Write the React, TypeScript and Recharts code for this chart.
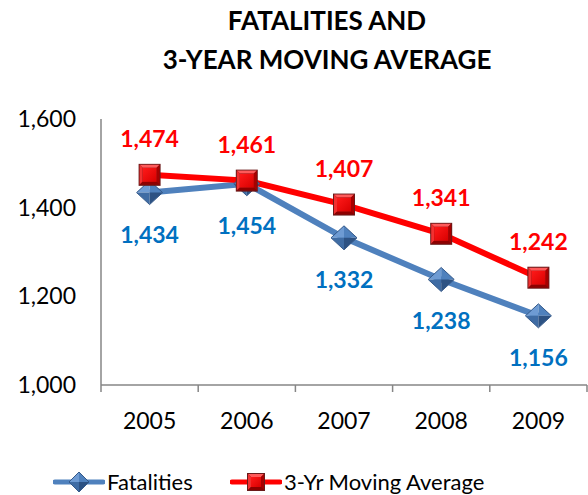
import { LineChart, Line, XAxis, YAxis, LabelList } from 'recharts'

const years = ['2005', '2006', '2007', '2008', '2009']
const fatalities = [1434, 1454, 1332, 1238, 1156]
const movingAverage = [1474, 1461, 1407, 1341, 1242]
const yTicks = [1000, 1200, 1400, 1600]

const FONT = 'Lato, "Open Sans", sans-serif'
const AXIS_GRAY = '#868686'
const BLUE_LINE = '#4F81BD'
const BLUE_TEXT = '#0070C0'
const RED = '#FF0000'

const data = years.map((year, i) => ({
  pos: i + 0.5,
  year,
  fatalities: fatalities[i],
  avg: movingAverage[i],
}))

// band edges (tick marks) and band centres (year labels)
const xTicks = Array.from({ length: years.length * 2 + 1 }, (_, i) => i / 2)

function fmt(v: number): string {
  return v.toLocaleString('en-US')
}

function YearTick({ x, y, payload }: any) {
  const v = payload.value as number
  if (Number.isInteger(v)) {
    return <line x1={x} x2={x} y1={y - 7} y2={y} stroke={AXIS_GRAY} strokeWidth={1.5} />
  }
  return (
    <text x={x} y={y + 28} textAnchor="middle" dominantBaseline="central" fill="#000" fontSize={23} fontFamily={FONT}>
      {years[Math.floor(v)]}
    </text>
  )
}

function Diamond({ cx, cy, w = 13, h = 12 }: { cx: number; cy: number; w?: number; h?: number }) {
  return (
    <g>
      <polygon points={`${cx - w},${cy} ${cx},${cy - h} ${cx},${cy}`} fill="#6E9BD3" />
      <polygon points={`${cx},${cy - h} ${cx + w},${cy} ${cx},${cy}`} fill="#4F81BD" />
      <polygon points={`${cx - w},${cy} ${cx},${cy + h} ${cx},${cy}`} fill="#3F6CA4" />
      <polygon points={`${cx + w},${cy} ${cx},${cy + h} ${cx},${cy}`} fill="#2D5283" />
      <polygon
        points={`${cx - w},${cy} ${cx},${cy - h} ${cx + w},${cy} ${cx},${cy + h}`}
        fill="none"
        stroke="#34598A"
        strokeWidth={1}
      />
    </g>
  )
}

function Square({ cx, cy, s = 11 }: { cx: number; cy: number; s?: number }) {
  const b = 3
  return (
    <g>
      <rect x={cx - s} y={cy - s} width={s * 2} height={s * 2} fill="#6B1A1A" />
      <polygon points={`${cx - s + 1},${cy - s + 1} ${cx + s - 1},${cy - s + 1} ${cx + s - 1 - b},${cy - s + 1 + b} ${cx - s + 1 + b},${cy - s + 1 + b}`} fill="#FF5A5A" />
      <polygon points={`${cx - s + 1},${cy - s + 1} ${cx - s + 1 + b},${cy - s + 1 + b} ${cx - s + 1 + b},${cy + s - 1 - b} ${cx - s + 1},${cy + s - 1}`} fill="#F23030" />
      <polygon points={`${cx + s - 1},${cy - s + 1} ${cx + s - 1},${cy + s - 1} ${cx + s - 1 - b},${cy + s - 1 - b} ${cx + s - 1 - b},${cy - s + 1 + b}`} fill="#A80000" />
      <polygon points={`${cx - s + 1},${cy + s - 1} ${cx + s - 1},${cy + s - 1} ${cx + s - 1 - b},${cy + s - 1 - b} ${cx - s + 1 + b},${cy + s - 1 - b}`} fill="#8E0000" />
      <rect x={cx - s + 1 + b} y={cy - s + 1 + b} width={(s - 1 - b) * 2} height={(s - 1 - b) * 2} fill="url(#redFace)" />
    </g>
  )
}

function makeLabel(color: string, dy: number) {
  return (props: any) => {
    const { x, y, value } = props
    return (
      <text x={x} y={y + dy} textAnchor="middle" dominantBaseline="central" fill={color} fontSize={23} fontWeight={700} fontFamily={FONT}>
        {fmt(value)}
      </text>
    )
  }
}

function LegendEntry({ kind, label, left }: { kind: 'diamond' | 'square'; label: string; left: number }) {
  const color = kind === 'diamond' ? BLUE_LINE : RED
  return (
    <div style={{ position: 'absolute', left, top: 0, display: 'flex', alignItems: 'center', whiteSpace: 'nowrap' }}>
      <svg width={52} height={24}>
        <line x1={2} x2={50} y1={12} y2={12} stroke={color} strokeWidth={5} strokeLinecap="round" />
        {kind === 'diamond' ? <Diamond cx={26} cy={12} w={10} h={10} /> : <Square cx={26} cy={12} s={9} />}
      </svg>
      <span style={{ marginLeft: 2 }}>{label}</span>
    </div>
  )
}

export default function App() {
  return (
    <div style={{ position: 'absolute', left: 0, top: 0, width: 588, height: 495, background: '#fff', fontFamily: FONT }}>
      <div
        style={{
          position: 'absolute',
          left: 327,
          top: 1,
          transform: 'translateX(-50%)',
          textAlign: 'center',
          whiteSpace: 'nowrap',
          fontSize: 26,
          fontWeight: 700,
          lineHeight: '39px',
          color: '#000',
        }}
      >
        FATALITIES AND
        <br />
        3-YEAR MOVING AVERAGE
      </div>

      <LineChart width={588} height={495} data={data} margin={{ top: 119, right: 1, bottom: 70, left: 0 }}>
        <defs>
          <linearGradient id="redFace" x1="0" y1="0" x2="1" y2="1">
            <stop offset="0%" stopColor="#FF1A1A" />
            <stop offset="100%" stopColor="#D80000" />
          </linearGradient>
        </defs>
        <XAxis
          dataKey="pos"
          type="number"
          domain={[0, years.length]}
          ticks={xTicks}
          interval={0}
          tick={<YearTick />}
          tickLine={false}
          tickSize={7}
          tickMargin={0}
          axisLine={{ stroke: AXIS_GRAY, strokeWidth: 1.5 }}
          height={40}
        />
        <YAxis
          domain={[1000, 1600]}
          ticks={yTicks}
          interval={0}
          tickFormatter={fmt}
          tickLine={false}
          tickSize={0}
          tickMargin={25}
          axisLine={{ stroke: AXIS_GRAY, strokeWidth: 1.5 }}
          tick={{ fill: '#000', fontSize: 23, fontFamily: FONT }}
          width={101}
        />
        <Line
          dataKey="fatalities"
          stroke={BLUE_LINE}
          strokeWidth={6}
          dot={(p: any) => <Diamond key={`d-${p.index}`} cx={p.cx} cy={p.cy} />}
          activeDot={false}
          isAnimationActive={false}
        >
          <LabelList dataKey="fatalities" content={makeLabel(BLUE_TEXT, 41)} />
        </Line>
        <Line
          dataKey="avg"
          stroke={RED}
          strokeWidth={6}
          dot={(p: any) => <Square key={`s-${p.index}`} cx={p.cx} cy={p.cy} />}
          activeDot={false}
          isAnimationActive={false}
        >
          <LabelList dataKey="avg" content={makeLabel(RED, -37)} />
        </Line>
      </LineChart>

      <div style={{ position: 'absolute', top: 470, left: 0, width: 588, height: 24, fontSize: 22, color: '#000', lineHeight: '24px' }}>
        <LegendEntry kind="diamond" label="Fatalities" left={53} />
        <LegendEntry kind="square" label="3-Yr Moving Average" left={230} />
      </div>
    </div>
  )
}
